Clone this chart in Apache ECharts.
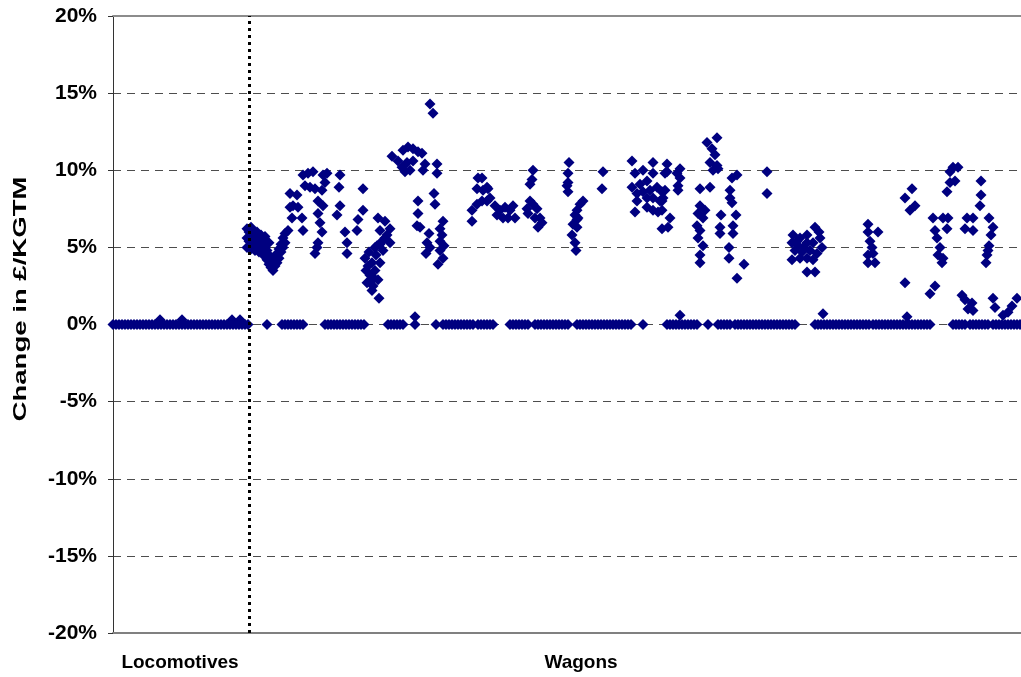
<!DOCTYPE html>
<html>
<head>
<meta charset="utf-8">
<title>Change in £/KGTM by vehicle</title>
<script src="https://cdn.jsdelivr.net/npm/echarts@6/dist/echarts.min.js"></script>
<style>
  html, body { margin: 0; padding: 0; background: #ffffff; }
  #chart { width: 1021px; height: 677px; }
</style>
</head>
<body>
<div id="chart"></div>
<script>
// Vehicle groups along the horizontal axis (item index order)
const groupNames = ['Locomotives', 'Wagons'];
const itemCount = 908;      // total vehicle items on the x axis
const dividerIdx = 136;     // first wagon item

// Y axis scale (percent change)
const yMin = -20, yMax = 20, yStep = 5;

// Locomotive items: all unchanged, a few with a very small rise
const locoZeroIdx = [0,3,6,9,12,15,18,21,24,27,30,33,36,39,42,45,48,51,54,57,60,63,66,69,72,75,78,81,84,87,90,93,96,99,102,105,108,111,114,117,120,123,126,129,132,135];
const locoSmall = [[47,0.3],[69,0.3],[119,0.3],[127,0.3]];

// Wagon items with no change
const wagonZeroIdx = [154,169,172,175,178,181,184,187,190,
  212,215,218,221,224,227,230,233,236,239,242,245,248,251,
  275,278,281,284,287,290,302,323,
  330,333,336,339,342,345,348,351,354,357,360,
  365,368,371,374,377,380,
  397,400,403,406,409,412,415,
  422,425,428,431,434,437,440,443,446,449,452,455,
  464,467,470,473,476,479,482,485,488,491,494,497,500,503,506,509,512,515,518,
  530,
  554,557,560,563,566,569,572,575,578,581,584,
  595,605,608,611,614,617,
  622,625,628,631,634,637,640,643,646,649,652,655,658,661,664,667,670,673,676,679,682,
  702,705,708,711,714,717,720,723,726,729,732,735,738,741,744,747,750,753,756,
  760,763,766,769,772,775,778,781,784,787,790,793,796,799,802,805,808,811,814,817,
  840,843,846,849,852,857,860,863,866,869,872,875,
  880,883,886,889,892,895,898,901,904,907];

// Wagon items with a change, [item index, % change], by block
const wagonSmall = [[302,0.5],[567,0.6],[710,0.7],[794,0.5]];
const wagonBlockA = [[134,6.2],[134,5.6],[134,5.0],[136,6.0],[136,5.4],[138,6.3],[138,5.8],[138,5.2],[138,4.9],[140,6.1],[140,5.5],[140,5.0],[142,5.9],[142,5.3],[142,4.8],[144,6.0],[144,5.6],[144,4.9],[146,5.4],[146,4.7],[148,5.8],[148,5.1],[150,5.5],[150,4.6],[152,5.7],[152,5.0],[152,4.4],[154,4.8],[154,4.2],[156,5.3],[156,4.5],[156,3.9],[158,4.3],[158,3.7],[160,4.0],[160,3.5],[162,4.4],[162,3.8],[164,4.6],[164,4.0],[166,4.9],[166,4.3],[168,5.2],[168,4.7],[170,5.6],[170,5.0],[172,5.9],[172,5.3],[175,6.1]];
const wagonBlockB = [[177,8.5],[177,7.6],[179,6.9],[180,7.7],[184,8.4],[185,7.6],[189,6.9],[190,6.1],[190,9.7],[192,9.0],[195,9.8],[197,8.9],[200,9.9],[202,8.8],[202,4.6],[204,5.0],[205,8.0],[205,7.2],[205,5.3],[207,6.6],[209,8.7],[209,6.0],[210,9.7],[210,7.7],[212,9.2],[214,9.8],[224,7.1],[226,8.9],[227,9.7],[227,7.7],[232,6.0],[234,5.3],[234,4.6],[244,6.1],[245,6.8],[250,8.8],[250,7.4]];
const wagonBlockC = [[252,4.3],[253,3.5],[254,2.7],[255,3.8],[256,4.7],[257,3.2],[258,2.9],[259,4.0],[259,2.2],[260,2.5],[261,3.0],[262,3.5],[262,5.0],[263,4.5],[264,5.1],[265,6.9],[265,2.9],[266,1.7],[267,4.0],[267,5.2],[267,6.1],[269,5.4],[270,4.8],[272,6.7],[272,5.6],[274,5.8],[277,6.2],[277,5.3]];
const wagonBlockD = [[279,10.9],[285,10.6],[289,10.2],[290,11.3],[292,9.9],[294,10.5],[295,11.5],[297,10.0],[300,11.4],[300,10.6],[304,6.4],[305,11.2],[305,8.0],[305,7.2],[307,6.3],[309,11.1],[310,10.0],[312,10.4],[313,4.6],[314,5.3],[316,5.9],[317,5.0],[317,14.3],[320,13.7],[321,8.5],[322,7.8],[324,10.4],[324,9.8],[325,3.9],[327,6.2],[327,5.4],[327,4.8],[329,5.8],[330,6.7],[330,4.3],[331,5.1]];
const wagonBlockE = [[359,7.4],[359,6.7],[364,8.8],[364,7.8],[365,9.5],[369,9.5],[369,8.0],[370,8.7],[374,8.9],[374,8.0],[375,8.8],[377,8.2],[382,7.7],[384,7.1],[387,7.4],[390,6.9],[392,7.6],[395,6.9],[397,7.4],[400,7.7],[402,6.9]];
const wagonBlockF = [[414,7.5],[415,7.2],[417,9.1],[417,8.0],[419,9.4],[420,10.0],[420,7.8],[422,6.9],[424,7.5],[425,6.3],[427,6.9],[429,6.6]];
const wagonBlockG = [[454,9.0],[455,9.8],[455,9.2],[455,8.6],[456,10.5],[459,5.8],[460,6.5],[462,7.1],[462,5.3],[463,4.8],[464,7.4],[464,6.3],[464,6.8],[465,6.9],[467,7.8],[470,8.0],[489,8.8],[490,9.9]];
const wagonBlockH = [[519,8.9],[519,10.6],[522,9.8],[522,7.3],[524,8.5],[524,8.0],[527,9.1],[530,10.0],[530,8.6],[534,9.3],[534,8.2],[534,7.6],[537,8.7],[540,10.5],[540,9.8],[540,8.2],[540,7.4],[544,8.9],[545,7.3],[547,8.0],[549,8.6],[549,8.0],[549,7.4],[549,6.2],[550,8.2],[552,9.8],[552,8.7],[554,10.4],[554,9.9],[555,6.3],[557,6.9],[564,9.8],[565,9.0],[565,8.7],[567,10.1],[567,9.5]];
const wagonBlockI = [[584,6.4],[585,7.2],[585,5.6],[587,8.8],[587,7.7],[587,6.1],[587,4.5],[587,4.0],[590,6.9],[590,5.1],[592,7.4],[594,11.8],[597,10.5],[597,8.9],[599,11.4],[600,10.0],[602,11.0],[604,12.1],[604,10.3],[605,10.1],[607,6.3],[607,5.9],[608,7.1],[616,5.0],[616,4.3],[617,8.7],[617,8.2],[619,9.5],[619,7.9],[620,6.4],[620,5.9],[623,7.1],[624,9.7],[624,3.0],[631,3.9],[654,9.9],[654,8.5]];
const wagonBlockJ = [[679,5.3],[679,4.2],[680,5.8],[682,4.8],[684,5.4],[685,5.1],[687,5.6],[687,4.3],[689,4.7],[690,5.0],[694,5.8],[694,5.3],[694,4.3],[694,3.4],[697,4.8],[700,5.3],[700,4.2],[702,6.3],[702,3.4],[704,4.6],[706,6.0],[707,5.6],[709,5.0]];
const wagonBlockK = [[755,6.5],[755,6.0],[755,4.5],[755,4.0],[757,5.4],[759,5.0],[760,4.6],[762,4.0],[765,6.0]];
const wagonBlockL = [[792,8.2],[792,2.7],[797,7.4],[799,8.8],[802,7.7],[817,2.0],[820,6.9],[822,6.1],[822,2.5],[824,5.6],[825,4.5],[827,5.0],[829,4.0],[830,6.9],[830,4.3],[834,6.2],[834,8.6],[835,6.9],[837,9.9],[837,9.2],[840,10.2],[842,9.3],[845,10.2],[849,1.9],[852,6.2],[852,1.6],[854,6.9],[855,1.0],[859,1.4],[860,6.9],[860,6.1],[860,0.9],[867,7.7],[868,9.3],[868,8.4],[873,4.0],[874,4.5],[875,4.8],[876,6.9],[876,5.1],[878,5.8],[880,6.3],[880,1.7],[882,1.1],[890,0.6],[895,0.8],[899,1.2],[904,1.7]];

const locomotives = locoZeroIdx.map(i => [i, 0]).concat(locoSmall);
const wagons = wagonZeroIdx.map(i => [i, 0]).concat(
  wagonSmall, wagonBlockA, wagonBlockB, wagonBlockC, wagonBlockD, wagonBlockE, wagonBlockF,
  wagonBlockG, wagonBlockH, wagonBlockI, wagonBlockJ, wagonBlockK, wagonBlockL);

const FONT = '"Liberation Sans", Arial, sans-serif';
const NAVY = '#000080';

const chart = echarts.init(document.getElementById('chart'), null, { renderer: 'canvas' });

const markStyle = {
  type: 'scatter',
  symbol: 'diamond',
  symbolSize: 11,
  itemStyle: { color: NAVY, opacity: 1 },
  animation: false,
  silent: true
};

chart.setOption({
  backgroundColor: '#ffffff',
  animation: false,
  grid: { left: 113, right: 0, top: 16, bottom: 44, containLabel: false },
  xAxis: [
    {
      type: 'value', min: 0, max: itemCount, position: 'bottom',
      axisLine: { show: true, onZero: false, lineStyle: { color: '#808080', width: 2 } },
      axisTick: { show: false }, axisLabel: { show: false }, splitLine: { show: false }
    },
    {
      type: 'value', min: 0, max: itemCount, position: 'top',
      axisLine: { show: true, onZero: false, lineStyle: { color: '#8c8c8c', width: 2 } },
      axisTick: { show: false }, axisLabel: { show: false }, splitLine: { show: false }
    }
  ],
  yAxis: {
    type: 'value', min: yMin, max: yMax, interval: yStep,
    axisLine: { show: true, onZero: false, lineStyle: { color: '#333333', width: 1 } },
    axisTick: { show: true, inside: false, length: 5, lineStyle: { color: '#333333' } },
    axisLabel: {
      formatter: '{value}%', margin: 16, color: '#000000',
      fontFamily: FONT, fontWeight: 'bold', fontSize: 21
    },
    splitLine: {
      show: true, showMinLine: false, showMaxLine: false,
      lineStyle: { color: '#4d4d4d', width: 1, type: [8, 6] }
    }
  },
  series: [
    Object.assign({ name: groupNames[0], data: locomotives }, markStyle),
    Object.assign({ name: groupNames[1], data: wagons }, markStyle, {
      markLine: {
        silent: true, symbol: 'none', label: { show: false },
        lineStyle: { color: '#000000', width: 3, type: [3, 4] },
        data: [{ xAxis: dividerIdx }]
      }
    })
  ],
  graphic: [
    {
      type: 'text', x: 21, y: 299, rotation: Math.PI / 2, scaleX: 1.45,
      style: { text: 'Change in £/KGTM', font: 'bold 19px ' + FONT, fill: '#000',
               align: 'center', verticalAlign: 'middle' }
    },
    {
      type: 'text', x: 180, y: 663,
      style: { text: groupNames[0], font: 'bold 19px ' + FONT, fill: '#000',
               align: 'center', verticalAlign: 'middle' }
    },
    {
      type: 'text', x: 581, y: 663,
      style: { text: groupNames[1], font: 'bold 19px ' + FONT, fill: '#000',
               align: 'center', verticalAlign: 'middle' }
    }
  ]
});
</script>
</body>
</html>
